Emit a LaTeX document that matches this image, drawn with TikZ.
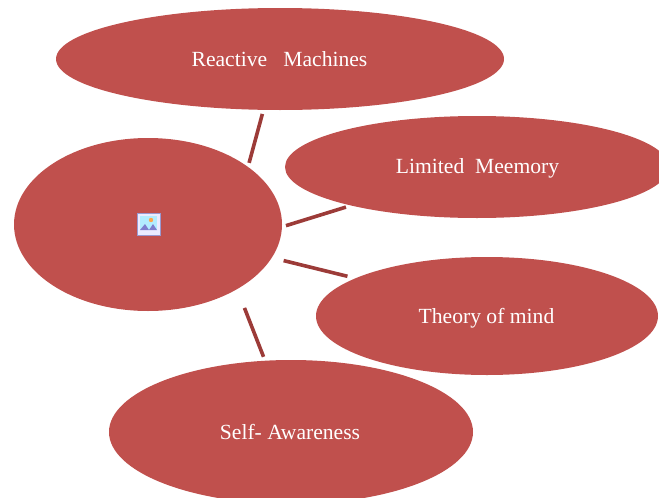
\documentclass[tikz,border=0pt]{standalone}
\usepackage{fontspec}
\setmainfont{Liberation Serif}
\usetikzlibrary{shapes.geometric}
\definecolor{blobred}{HTML}{C0504D}
\definecolor{linkred}{HTML}{9C3B38}
\tikzset{
  blob/.style={ellipse,fill=blobred,draw=none,inner sep=0pt},
  label/.style={text=white,font=\fontsize{21.6}{26}\selectfont},
  link/.style={draw=linkred,line width=3.6pt},
}
\begin{document}
\begin{tikzpicture}[x=1pt,y=-1pt]
\useasboundingbox (0,0) rectangle (659,498);
\clip (0,0) rectangle (659,498);
\node[blob,minimum width=448pt,minimum height=102pt] (top) at (280,59) {};
\node[blob,minimum width=268pt,minimum height=173pt] (hub) at (148,224.5) {};
\node[blob,minimum width=384pt,minimum height=102pt] (mem) at (477,167) {};
\node[blob,minimum width=342pt,minimum height=118pt] (tom) at (487,316) {};
\node[blob,minimum width=364pt,minimum height=144pt] (self) at (291,432) {};
\node[label] (toplabel) at (279.5,59) {Reactive\ \ \ Machines};
\node[label] (memlabel) at (477.5,168) {Limited\ \ Meemory};
\node[label] (tomlabel) at (486.5,318) {Theory of mind};
\node[label] (selflabel) at (290,432) {Self-\ Awareness};
\draw[link,shorten <=4pt,shorten >=4pt] (hub.30.4) -- (top.252.6);
\draw[link,shorten <=4pt,shorten >=5pt] (hub.-1) -- (mem.197.5);
\draw[link,shorten <=12pt,shorten >=8pt] (hub.-15) -- (tom.164.8);
\draw[link,shorten <=20pt,shorten >=4pt] (hub.-36.5) -- (self.110.3);
% broken-image icon
\fill[white!92!blue] (137,213) rectangle (160,235);
\draw[black!45!blue!40!white,line width=1pt] (137,213) rectangle (160,235);
\fill[blue!25!cyan!30!white] (140,216) rectangle (157,230);
\fill[orange!70!white] (151,220) circle (2.2pt);
\fill[blue!45!gray!70!white] (140,230) -- (145,224) -- (149,230) -- (153,224) -- (157,230) -- cycle;
\end{tikzpicture}
\end{document}
